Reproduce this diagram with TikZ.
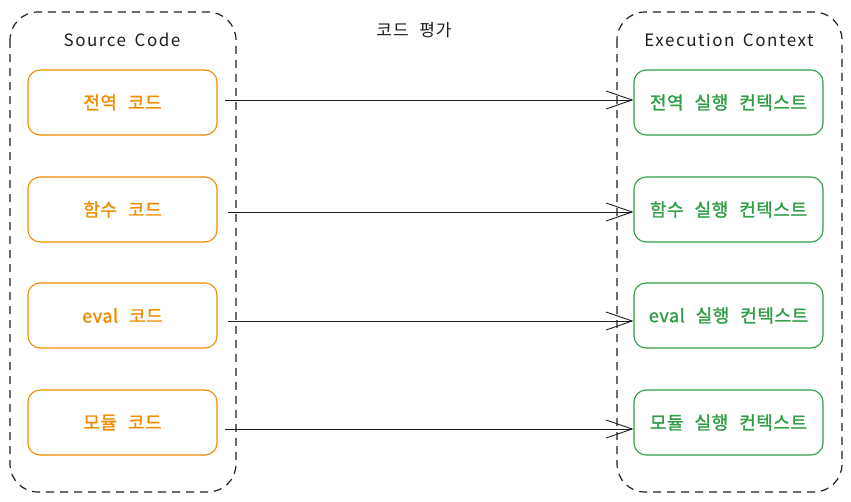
\documentclass[tikz,border=0pt]{standalone}
\usepackage{fontspec}
\setmainfont{Noto Sans CJK KR}
\newfontfamily\krbold{Noto Sans CJK KR}[FakeBold=1.4, LetterSpace=3, WordSpace=2.4]
\newfontfamily\krplain{Noto Sans CJK KR}[LetterSpace=6, WordSpace=2.2]
\newfontfamily\hand{Noto Sans CJK KR}[LetterSpace=9, WordSpace=1.6]
\usetikzlibrary{arrows.meta}
\definecolor{orng}{HTML}{F08C00}
\definecolor{grn}{HTML}{2F9E44}
\definecolor{ink}{HTML}{1E1E1E}
\tikzset{
  container/.style={draw=ink, line width=1.2pt, dash pattern=on 8pt off 6pt, rounded corners=28pt},
  srcbox/.style={draw=orng, line width=1.1pt, rounded corners=12pt, minimum width=189pt, minimum height=65pt, text=orng, font=\krbold\fontsize{18}{21}\selectfont, inner sep=0pt},
  ctxbox/.style={draw=grn, line width=1.1pt, rounded corners=12pt, minimum width=189pt, minimum height=65pt, text=grn, font=\krbold\fontsize{18}{21}\selectfont, inner sep=0pt},
  conn/.style={draw=ink, line width=1pt, -{Straight Barb[length=26pt,width=18pt,line width=0.9pt]}},
  heading/.style={text=ink, font=\hand\fontsize{17}{20}\selectfont},
  title/.style={text=ink, font=\krplain\fontsize{17}{20}\selectfont}
}
\begin{document}
\begin{tikzpicture}[x=1pt,y=-1pt]
\useasboundingbox (0,0) rectangle (851,501);
\draw[container] (10,12) rectangle (236,492);
\draw[container] (617,12) rectangle (842,492);
\node[heading] (srclbl) at (122,40) {Source Code};
\node[heading] (ctxlbl) at (729,40) {Execution Context};
\node[title] (evallbl) at (414,30) {코드 평가};
\node[srcbox] (s1) at (122.5,102.5) {전역 코드};
\node[srcbox] (s2) at (122.5,209.5) {함수 코드};
\node[srcbox] (s3) at (122.5,315.5) {eval 코드};
\node[srcbox] (s4) at (122.5,422.5) {모듈 코드};
\node[ctxbox] (c1) at (728.5,102.5) {전역 실행 컨텍스트};
\node[ctxbox] (c2) at (728.5,209.5) {함수 실행 컨텍스트};
\node[ctxbox] (c3) at (728.5,315.5) {eval 실행 컨텍스트};
\node[ctxbox] (c4) at (728.5,422.5) {모듈 실행 컨텍스트};
\coordinate (a1) at (225,100);
\coordinate (a2) at (228,212);
\coordinate (a3) at (228,321);
\coordinate (a4) at (225,429);
\draw[conn] (a1) -- (c1.west |- a1);
\draw[conn] (a2) -- (c2.west |- a2);
\draw[conn] (a3) -- (c3.west |- a3);
\draw[conn] (a4) -- (c4.west |- a4);
\end{tikzpicture}
\end{document}
